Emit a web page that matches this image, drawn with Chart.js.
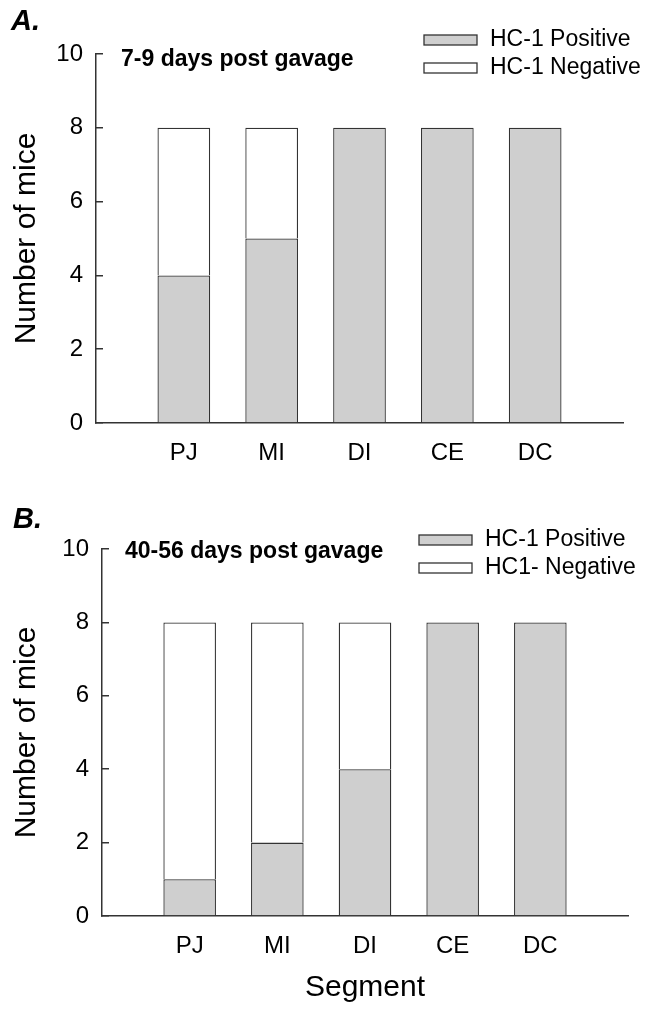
<!DOCTYPE html>
<html>
<head>
<meta charset="utf-8">
<script src="https://cdn.jsdelivr.net/npm/chart.js@4.4.1/dist/chart.umd.min.js"></script>
<style>
    body { margin: 0; background: #fff; }
    #wrap { position: relative; width: 657px; height: 1019px; }
    .painel { position: absolute; left: 0; width: 657px; }
</style>
</head>
<body>
<div id="wrap">
    <div class="painel" style="top:0;height:500px"><canvas id="chart-a"></canvas></div>
    <div class="painel" style="top:500px;height:519px"><canvas id="chart-b"></canvas></div>
</div>
<script>
// dados
const segmentos = ['PJ', 'MI', 'DI', 'CE', 'DC'];
const positivosA = [4, 5, 8, 8, 8];
const negativosA = [4, 3, 0, 0, 0];
const positivosB = [1, 2, 4, 8, 8];
const negativosB = [7, 6, 4, 0, 0];
const legendasA = ['HC-1 Positive', 'HC-1 Negative'];
const legendasB = ['HC-1 Positive', 'HC1- Negative'];

const FONTE = '"Liberation Sans", Arial, sans-serif';
const COR_LINHA = '#333';

// letra do painel, subtítulo e legenda desenhados por cima
const pluginAnotacoes = {
    id: 'anotacoes',
    afterDraw(chart, args, opts) {
        const ctx = chart.ctx;
        ctx.save();
        ctx.textBaseline = 'middle';
        ctx.fillStyle = '#000';
        ctx.font = `bold italic 29px ${FONTE}`;
        ctx.fillText(opts.letra, opts.letraX, opts.letraY);
        ctx.font = `bold 23px ${FONTE}`;
        ctx.fillText(opts.titulo, opts.tituloX, opts.tituloY);

        ctx.font = `23px ${FONTE}`;
        chart.data.datasets.forEach(function (ds, i) {
            let y = opts.legY + i * 28;
            ctx.fillStyle = ds.backgroundColor;
            ctx.fillRect(opts.legX, y - 5, 53, 10);
            ctx.strokeStyle = COR_LINHA;
            ctx.lineWidth = 1.3;
            ctx.strokeRect(opts.legX, y - 5, 53, 10);
            ctx.fillStyle = '#000';
            ctx.fillText(ds.label, opts.legX + 66, y);
        });
        ctx.restore();
    }
};

function plotarPainel(idCanvas, positivos, negativos, legendas, cfg) {
    // montando os pontos {x, y} a partir dos arrays (zero fica sem barra)
    let dadosPos = [];
    let dadosNeg = [];
    for (let i = 0; i < segmentos.length; i++) {
        dadosPos.push({ x: i, y: positivos[i] > 0 ? positivos[i] : null });
        dadosNeg.push({ x: i, y: negativos[i] > 0 ? negativos[i] : null });
    }

    const dados = {
        datasets: [{
            label: legendas[0],
            data: dadosPos,
            backgroundColor: '#cfcfcf',
            borderColor: COR_LINHA,
            borderWidth: 1.3,
            borderSkipped: 'start',
            barPercentage: 0.6,
            categoryPercentage: 1
        }, {
            label: legendas[1],
            data: dadosNeg,
            backgroundColor: '#ffffff',
            borderColor: COR_LINHA,
            borderWidth: 1.3,
            borderSkipped: 'start',
            barPercentage: 0.6,
            categoryPercentage: 1
        }]
    };

    const config = {
        type: 'bar',
        data: dados,
        options: {
            responsive: true,
            maintainAspectRatio: false,
            animation: false,
            layout: { padding: { top: cfg.topo, right: cfg.direita, left: 0, bottom: 0 } },
            scales: {
                x: {
                    type: 'linear',
                    stacked: true,
                    offset: false,
                    min: -1,
                    max: 5,
                    grid: { display: false, drawTicks: false },
                    border: { display: true, color: COR_LINHA, width: 1.5 },
                    ticks: {
                        stepSize: 1,
                        autoSkip: false,
                        maxRotation: 0,
                        padding: 16,
                        color: '#000',
                        font: { family: FONTE, size: 24 },
                        callback: function (v) { return segmentos[v] !== undefined ? segmentos[v] : ''; }
                    },
                    title: {
                        display: cfg.tituloX,
                        text: 'Segment',
                        color: '#000',
                        font: { family: FONTE, size: 30 },
                        padding: { top: 0, bottom: 13 }
                    },
                    afterFit: function (escala) { escala.height = cfg.alturaX; }
                },
                y: {
                    stacked: true,
                    min: 0,
                    max: 10,
                    grid: { drawOnChartArea: false, tickLength: -7, color: COR_LINHA, lineWidth: 1.5 },
                    border: { display: true, color: COR_LINHA, width: 1.5 },
                    ticks: {
                        stepSize: 2,
                        padding: 20,
                        color: '#000',
                        font: { family: FONTE, size: 24 }
                    },
                    title: {
                        display: true,
                        text: 'Number of mice',
                        color: '#000',
                        font: { family: FONTE, size: 30 },
                        padding: { top: 9, bottom: 0 }
                    },
                    afterFit: function (escala) { escala.width = cfg.larguraY; }
                }
            },
            plugins: {
                legend: { display: false },
                tooltip: { enabled: false },
                anotacoes: cfg.anotacoes
            }
        },
        plugins: [pluginAnotacoes]
    };

    let myChart = new Chart(document.getElementById(idCanvas), config);
}

plotarPainel('chart-a', positivosA, negativosA, legendasA, {
    topo: 54, direita: 34, larguraY: 96, alturaX: 77, tituloX: false,
    anotacoes: { letra: 'A.', letraX: 11, letraY: 22, titulo: '7-9 days post gavage', tituloX: 121, tituloY: 60, legX: 424, legY: 40 }
});

plotarPainel('chart-b', positivosB, negativosB, legendasB, {
    topo: 49, direita: 29, larguraY: 102, alturaX: 103, tituloX: true,
    anotacoes: { letra: 'B.', letraX: 13, letraY: 20, titulo: '40-56 days post gavage', tituloX: 125, tituloY: 52, legX: 419, legY: 40 }
});
</script>
</body>
</html>
